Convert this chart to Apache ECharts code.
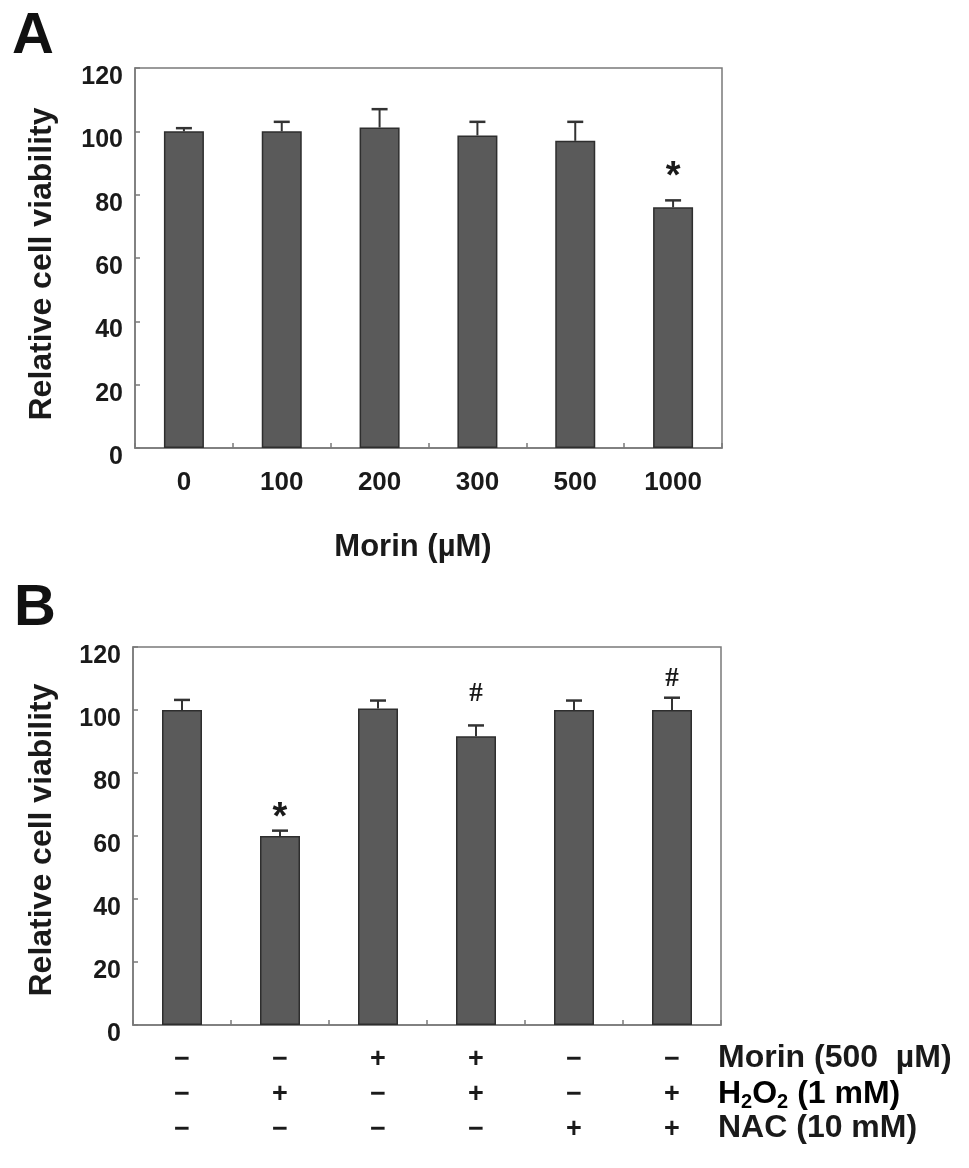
<!DOCTYPE html>
<html><head><meta charset="utf-8">
<script src="https://cdn.jsdelivr.net/npm/echarts@6/dist/echarts.min.js"></script>
<style>html,body{margin:0;padding:0;background:#fff}#c{width:969px;height:1168px}</style>
</head><body><div id="c"></div>
<script>
// ---- data ----
const catsA = ['0', '100', '200', '300', '500', '1000'];
const meansA = [100, 100, 101.2, 98.7, 97, 76];
const errTopA = [101, 103, 107, 103, 103, 78.2];
const marksA = ['', '', '', '', '', '*'];
const markValA = [0, 0, 0, 0, 0, 88.4];

const catsB = ['g1', 'g2', 'g3', 'g4', 'g5', 'g6'];
const morinRow = ['−', '−', '+', '+', '−', '−'];
const h2o2Row = ['−', '+', '−', '+', '−', '+'];
const nacRow = ['−', '−', '−', '−', '+', '+'];
const meansB = [100, 60, 100.5, 91.7, 100, 100];
const errTopB = [103.2, 61.7, 103, 95.1, 103, 103.9];
const marksB = ['', '*', '', '#', '', '#'];
const markValB = [0, 68.3, 0, 105.1, 0, 109.8];

const yMin = 0, yMax = 120, yStep = 20;
const titleA = 'A', titleB = 'B';
const yTitle = 'Relative cell viability';
const xTitleA = 'Morin (µM)';

// ---- styles ----
const FONT = "'Liberation Sans', Arial, Helvetica, sans-serif";
const barColor = '#5a5a5a', barBorder = '#2e2e2e', frame = '#7a7a7a';

function errRender(params, api) {
  const x = api.value(0), m = api.value(1), t = api.value(2);
  const p0 = api.coord([x, m]), p1 = api.coord([x, t]);
  const hw = 8;
  return {type: 'group', children: [
    {type: 'line', shape: {x1: p0[0], y1: p0[1], x2: p1[0], y2: p1[1]}, style: {stroke: '#333', lineWidth: 2}},
    {type: 'line', shape: {x1: p1[0] - hw, y1: p1[1], x2: p1[0] + hw, y2: p1[1]}, style: {stroke: '#333', lineWidth: 2.5}}
  ]};
}
function makeMarkRender(arr) {
  return function (params, api) {
    const s = arr[params.dataIndex];
    if (!s) return null;
    const p = api.coord([api.value(0), api.value(1)]);
    const isStar = s === '*';
    return {type: 'text', x: p[0], y: p[1] + (isStar ? 9 : 0), style: {
      text: s, align: 'center', verticalAlign: 'middle',
      font: isStar ? ('bold 38px ' + FONT) : ("bold 27px 'Liberation Serif', 'Times New Roman', serif"),
      fill: '#1a1a1a'
    }};
  };
}

const axisCommon = {
  axisLine: {show: true, lineStyle: {color: frame, width: 1.5}},
  splitLine: {show: false}
};
function yAx(gi) {
  return Object.assign({}, axisCommon, {
    type: 'value', gridIndex: gi, min: yMin, max: yMax, interval: yStep,
    axisTick: {show: true, inside: true, length: 5, lineStyle: {color: frame, width: 1.5}},
    axisLabel: {fontFamily: FONT, fontWeight: 'bold', fontSize: 25, color: '#1a1a1a', margin: 12,
      verticalAlign: 'top', lineHeight: 18}
  });
}

const chart = echarts.init(document.getElementById('c'), null, {renderer: 'canvas'});
chart.setOption({
  animation: false,
  backgroundColor: '#fff',
  grid: [
    {left: 135, top: 68, width: 587, height: 380, show: true, borderColor: frame, borderWidth: 1.5, backgroundColor: 'transparent'},
    {left: 133, top: 647, width: 588, height: 378, show: true, borderColor: frame, borderWidth: 1.5, backgroundColor: 'transparent'}
  ],
  xAxis: [
    Object.assign({}, axisCommon, {
      type: 'category', gridIndex: 0, data: catsA,
      axisTick: {show: true, inside: true, length: 5, lineStyle: {color: frame, width: 1.5}},
      axisLabel: {fontFamily: FONT, fontWeight: 'bold', fontSize: 26, color: '#1a1a1a', margin: 22}
    }),
    Object.assign({}, axisCommon, {
      type: 'category', gridIndex: 1, data: catsB,
      axisTick: {show: true, inside: true, length: 5, lineStyle: {color: frame, width: 1.5}},
      axisLabel: {fontFamily: FONT, fontWeight: 'bold', fontSize: 27, color: '#1a1a1a', margin: 17, lineHeight: 35,
        formatter: (v, i) => morinRow[i] + '\n' + h2o2Row[i] + '\n' + nacRow[i]}
    })
  ],
  yAxis: [yAx(0), yAx(1)],
  series: [
    {type: 'bar', xAxisIndex: 0, yAxisIndex: 0, data: meansA, barWidth: 40,
      itemStyle: {color: barColor, borderColor: barBorder, borderWidth: 1.5}},
    {type: 'custom', xAxisIndex: 0, yAxisIndex: 0, renderItem: errRender,
      data: meansA.map((m, i) => [i, m, errTopA[i]]), encode: {x: 0, y: [1, 2]}, z: 3},
    {type: 'custom', xAxisIndex: 0, yAxisIndex: 0, renderItem: makeMarkRender(marksA),
      data: markValA.map((v, i) => [i, v]), encode: {x: 0, y: 1}, z: 4},
    {type: 'bar', xAxisIndex: 1, yAxisIndex: 1, data: meansB, barWidth: 40,
      itemStyle: {color: barColor, borderColor: barBorder, borderWidth: 1.5}},
    {type: 'custom', xAxisIndex: 1, yAxisIndex: 1, renderItem: errRender,
      data: meansB.map((m, i) => [i, m, errTopB[i]]), encode: {x: 0, y: [1, 2]}, z: 3},
    {type: 'custom', xAxisIndex: 1, yAxisIndex: 1, renderItem: makeMarkRender(marksB),
      data: markValB.map((v, i) => [i, v]), encode: {x: 0, y: 1}, z: 4}
  ],
  graphic: [
    {type: 'text', left: 12, top: 8, style: {text: titleA, font: 'bold 58px ' + FONT, fill: '#111'}},
    {type: 'text', left: 14, top: 580, style: {text: titleB, font: 'bold 58px ' + FONT, fill: '#111'}},
    {type: 'text', x: 42, y: 264, rotation: Math.PI / 2, style: {text: yTitle, font: 'bold 32px ' + FONT, fill: '#1a1a1a', align: 'center', verticalAlign: 'middle'}},
    {type: 'text', x: 42, y: 840, rotation: Math.PI / 2, style: {text: yTitle, font: 'bold 32px ' + FONT, fill: '#1a1a1a', align: 'center', verticalAlign: 'middle'}},
    {type: 'text', x: 413, y: 547, style: {text: xTitleA, font: 'bold 31px ' + FONT, fill: '#1a1a1a', align: 'center', verticalAlign: 'middle'}},
    {type: 'text', x: 718, y: 1058, style: {text: 'Morin (500  µM)', font: 'bold 32px ' + FONT, fill: '#1a1a1a', align: 'left', verticalAlign: 'middle'}},
    {type: 'text', x: 718, y: 1094, style: {
      text: '{n|H}{s|2}{n|O}{s|2}{n| (1 mM)}', align: 'left', verticalAlign: 'middle',
      rich: {
        n: {fontFamily: FONT, fontWeight: 'bold', fontSize: 32, lineHeight: 36, color: '#1a1a1a'},
        s: {fontFamily: FONT, fontWeight: 'bold', fontSize: 20, lineHeight: 18, verticalAlign: 'bottom', color: '#1a1a1a'}
      }}},
    {type: 'text', x: 718, y: 1128, style: {text: 'NAC (10 mM)', font: 'bold 32px ' + FONT, fill: '#1a1a1a', align: 'left', verticalAlign: 'middle'}}
  ]
});
</script>
</body></html>
